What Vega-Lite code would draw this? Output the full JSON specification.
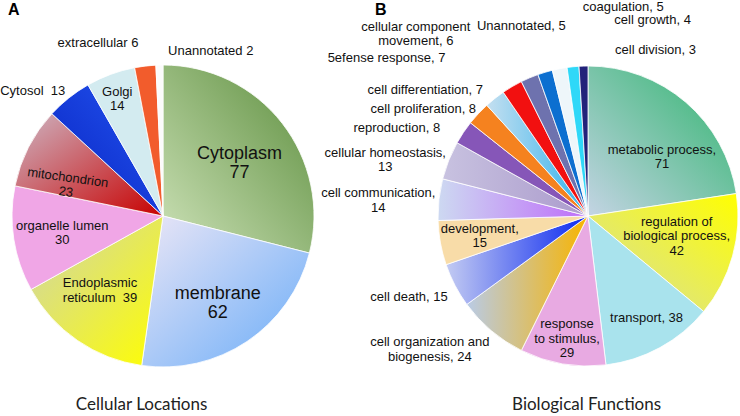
{
  "$schema": "https://vega.github.io/schema/vega-lite/v6.json",
  "background": "white",
  "padding": {"left": 0, "top": 0, "right": 0, "bottom": 2},
  "config": {"view": {"stroke": null}, "text": {"font": "Liberation Sans"}},
  "datasets": {
    "loc": [
      {"name": "Cytoplasm", "count": 77, "label": "Cytoplasm\n77"},
      {"name": "membrane", "count": 62, "label": "membrane\n62"},
      {"name": "Endoplasmic reticulum", "count": 39, "label": "Endoplasmic\nreticulum \u00a039"},
      {"name": "organelle lumen", "count": 30, "label": "organelle lumen\n30"},
      {"name": "mitochondrion", "count": 23, "label": "mitochondrion\n23"},
      {"name": "Cytosol", "count": 13, "label": "Cytosol \u00a013"},
      {"name": "Golgi", "count": 14, "label": "Golgi\n14"},
      {"name": "extracellular", "count": 6, "label": "extracellular 6"},
      {"name": "Unannotated", "count": 2, "label": "Unannotated 2"}
    ],
    "bio": [
      {"name": "metabolic process", "count": 71, "label": "metabolic process,\n71"},
      {"name": "regulation of biological process", "count": 42, "label": "regulation of\nbiological process,\n42"},
      {"name": "transport", "count": 38, "label": "transport, 38"},
      {"name": "response to stimulus", "count": 29, "label": "response\nto stimulus,\n29"},
      {"name": "cell organization and biogenesis", "count": 24, "label": "cell organization and\nbiogenesis, 24"},
      {"name": "cell death", "count": 15, "label": "cell death, 15"},
      {"name": "development", "count": 15, "label": "development,\n15"},
      {"name": "cell communication", "count": 14, "label": "cell communication,\n14"},
      {"name": "cellular homeostasis", "count": 13, "label": "cellular homeostasis,\n13"},
      {"name": "reproduction", "count": 8, "label": "reproduction, 8"},
      {"name": "cell proliferation", "count": 8, "label": "cell proliferation, 8"},
      {"name": "cell differentiation", "count": 7, "label": "cell differentiation, 7"},
      {"name": "5efense response", "count": 7, "label": "5efense response, 7"},
      {"name": "cellular component movement", "count": 6, "label": "cellular component\nmovement, 6"},
      {"name": "Unannotated", "count": 5, "label": "Unannotated, 5"},
      {"name": "coagulation", "count": 5, "label": "coagulation, 5"},
      {"name": "cell growth", "count": 4, "label": "cell growth, 4"},
      {"name": "cell division", "count": 3, "label": "cell division, 3"}
    ]
  },
  "spacing": 0,
  "resolve": {"scale": {"color": "independent", "theta": "independent"}},
  "hconcat": [
    {
      "title": {"text": "Cellular Locations", "orient": "bottom", "frame": "bounds", "anchor": "middle", "font": "Lato", "fontSize": 17, "fontWeight": "normal", "color": "#222222", "offset": 8, "dx": -19},
      "vconcat": [
        {
          "width": 316,
          "height": 346,
          "data": {"name": "loc"},
          "title": {"text": "A", "orient": "top", "anchor": "start", "frame": "group", "font": "Liberation Sans", "fontSize": 16, "fontWeight": "bold", "color": "#000000", "dx": 3, "offset": 19},
          "transform": [{"window": [{"op": "row_number", "as": "ord"}]}],
          "encoding": {
            "theta": {"field": "count", "type": "quantitative", "stack": true},
            "order": {"field": "ord", "type": "quantitative"}
          },
          "layer": [
            {
              "mark": {"type": "arc", "outerRadius": 151, "stroke": "white", "strokeWidth": 0.8},
              "encoding": {
                "color": {
                  "field": "name", "type": "nominal", "legend": null,
                  "scale": {
                    "domain": ["Cytoplasm", "membrane", "Endoplasmic reticulum", "organelle lumen", "mitochondrion", "Cytosol", "Golgi", "extracellular", "Unannotated"],
                    "range": [
                      {"expr": "{gradient:'linear',x1:0,y1:1,x2:1,y2:0,stops:[{offset:0,color:'#cde2b8'},{offset:1,color:'#5b8d3c'}]}"},
                      {"expr": "{gradient:'linear',x1:0,y1:0,x2:1,y2:1,stops:[{offset:0,color:'#ebe6f6'},{offset:1,color:'#69acf8'}]}"},
                      {"expr": "{gradient:'linear',x1:0,y1:0,x2:1,y2:1,stops:[{offset:0,color:'#cdd3b0'},{offset:1,color:'#ffff00'}]}"},
                      "#f0a6e6",
                      {"expr": "{gradient:'linear',x1:0,y1:0,x2:1,y2:1,stops:[{offset:0,color:'#cdb6c4'},{offset:1,color:'#c80000'}]}"},
                      {"expr": "{gradient:'linear',x1:1,y1:0,x2:0,y2:1,stops:[{offset:0,color:'#2456f2'},{offset:1,color:'#0722c0'}]}"},
                      "#d3ebf0",
                      "#f25c2c",
                      "#fbfbfb"
                    ]
                  }
                }
              }
            },
            {
              "mark": {
                "type": "text",
                "baseline": "middle",
                "lineBreak": "\n",
                "color": "#111111",
                "lineHeight": {"expr": "datum.name == 'Cytoplasm' || datum.name == 'membrane' ? 19 : 14.5"},
                "radius": {"expr": "({'Cytoplasm':97,'membrane':102,'Endoplasmic reticulum':90,'organelle lumen':102,'mitochondrion':100,'Cytosol':160,'Golgi':126,'extracellular':174,'Unannotated':165})[datum.name]"},
                "align": {"expr": "indexof(['Cytosol','extracellular'], datum.name) >= 0 ? 'right' : (datum.name == 'Unannotated' ? 'left' : 'center')"},
                "dx": {"expr": "({'membrane':-2,'Endoplasmic reticulum':-12,'mitochondrion':-5,'Cytosol':2,'Golgi':-2,'extracellular':-4,'Unannotated':9})[datum.name] || 0"},
                "dy": {"expr": "({'Cytoplasm':-2,'membrane':-7,'Endoplasmic reticulum':-7,'organelle lumen':-6,'mitochondrion':8,'Golgi':-6})[datum.name] || 0"},
                "fontSize": {"expr": "datum.name == 'Cytoplasm' || datum.name == 'membrane' ? 18 : 13"},
                "angle": {"expr": "datum.name == 'mitochondrion' ? 8 : 0"}
              },
              "encoding": {"text": {"field": "label", "type": "nominal"}}
            }
          ]
        }
      ]
    },
    {
      "title": {"text": "Biological Functions", "orient": "bottom", "frame": "bounds", "anchor": "middle", "font": "Lato", "fontSize": 17, "fontWeight": "normal", "color": "#222222", "offset": 8, "dx": 56},
      "vconcat": [
        {
          "width": 304,
          "height": 346,
          "data": {"name": "bio"},
          "title": {"text": "B", "orient": "top", "anchor": "start", "frame": "group", "font": "Liberation Sans", "fontSize": 16, "fontWeight": "bold", "color": "#000000", "dx": -61, "offset": -17},
          "transform": [{"window": [{"op": "row_number", "as": "ord"}]}],
          "encoding": {
            "theta": {"field": "count", "type": "quantitative", "stack": true},
            "order": {"field": "ord", "type": "quantitative"}
          },
          "layer": [
            {
              "mark": {"type": "arc", "outerRadius": 150, "stroke": "white", "strokeWidth": 0.8},
              "encoding": {
                "color": {
                  "field": "name", "type": "nominal", "legend": null,
                  "scale": {
                    "domain": ["metabolic process", "regulation of biological process", "transport", "response to stimulus", "cell organization and biogenesis", "cell death", "development", "cell communication", "cellular homeostasis", "reproduction", "cell proliferation", "cell differentiation", "5efense response", "cellular component movement", "Unannotated", "coagulation", "cell growth", "cell division"],
                    "range": [
                      {"expr": "{gradient:'linear',x1:0,y1:1,x2:1,y2:0,stops:[{offset:0,color:'#c4d4e4'},{offset:1,color:'#2db46c'}]}"},
                      {"expr": "{gradient:'linear',x1:0,y1:1,x2:1,y2:0,stops:[{offset:0,color:'#d4dca8'},{offset:1,color:'#ffff00'}]}"},
                      "#a9e3ed",
                      "#e8aae2",
                      {"expr": "{gradient:'linear',x1:0,y1:0,x2:1,y2:0,stops:[{offset:0,color:'#b9cbe6'},{offset:1,color:'#f8b400'}]}"},
                      {"expr": "{gradient:'linear',x1:0,y1:0,x2:1,y2:0,stops:[{offset:0,color:'#c3cbf2'},{offset:1,color:'#0a28f0'}]}"},
                      "#f8dca8",
                      {"expr": "{gradient:'linear',x1:0,y1:0,x2:1,y2:0,stops:[{offset:0,color:'#cdd9f1'},{offset:1,color:'#be6cf9'}]}"},
                      {"expr": "{gradient:'linear',x1:0,y1:0,x2:1,y2:0,stops:[{offset:0,color:'#c8c2e0'},{offset:1,color:'#ab9bcc'}]}"},
                      "#8656b8",
                      "#f5821f",
                      {"expr": "{gradient:'linear',x1:0,y1:0,x2:1,y2:0,stops:[{offset:0,color:'#c4dff0'},{offset:1,color:'#32b2ec'}]}"},
                      "#f21010",
                      "#6e72ae",
                      "#0c6fd0",
                      "#eef6fa",
                      "#2fd8f8",
                      "#22227a"
                    ]
                  }
                }
              }
            },
            {
              "mark": {
                "type": "text",
                "baseline": "middle",
                "lineBreak": "\n",
                "color": "#111111",
                "fontSize": 13,
                "lineHeight": 14.5,
                "radius": {"expr": "({'metabolic process':95,'regulation of biological process':92,'transport':118,'response to stimulus':124,'cell organization and biogenesis':174,'cell death':165,'development':110,'cell communication':208,'cellular homeostasis':200,'reproduction':178,'cell proliferation':153,'cell differentiation':169,'5efense response':183,'cellular component movement':198,'Unannotated':198,'coagulation':213,'cell growth':197,'cell division':166})[datum.name]"},
                "align": {"expr": "indexof(['cell death','reproduction','cell proliferation','cell differentiation','5efense response'], datum.name) >= 0 ? 'right' : (indexof(['coagulation','cell growth','cell division'], datum.name) >= 0 ? 'left' : 'center')"},
                "dx": {"expr": "({'metabolic process':12,'transport':2,'cell organization and biogenesis':-46,'cell death':6,'cell communication':-3,'cellular homeostasis':-17,'5efense response':-50,'cellular component movement':-95,'Unannotated':-10,'coagulation':35,'cell growth':46,'cell division':32})[datum.name] || 0"},
                "dy": {"expr": "({'metabolic process':6,'regulation of biological process':-19,'transport':-2,'response to stimulus':-14,'cell organization and biogenesis':-7,'cell death':5,'development':-7,'cell communication':0,'cellular homeostasis':11,'reproduction':11,'cell proliferation':-3,'cell differentiation':6,'cellular component movement':-7})[datum.name] || 0"}
              },
              "encoding": {"text": {"field": "label", "type": "nominal"}}
            }
          ]
        }
      ]
    }
  ]
}
